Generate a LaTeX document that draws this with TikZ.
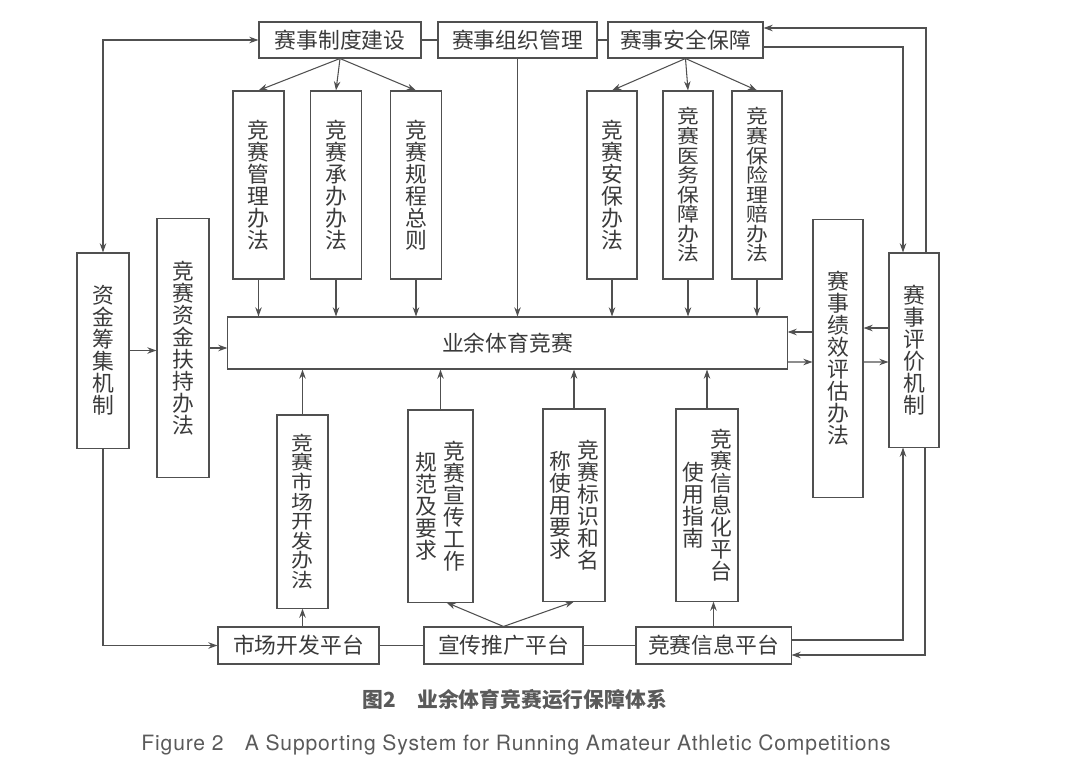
\documentclass[tikz,border=0pt]{standalone}
\usepackage{fontspec}
\usepackage{graphicx}
\setmainfont{TeX Gyre Heros}
\newfontfamily\cjk{Noto Sans CJK SC}
\usetikzlibrary{arrows.meta,calc}

\definecolor{linegray}{HTML}{505050}
\definecolor{textgray}{HTML}{3A3A3A}
\definecolor{capgray}{HTML}{5A5A5A}

\newcommand{\boxfont}{\cjk\fontsize{15.5pt}{15.65pt}\selectfont}
\newcommand{\vcol}[1]{\begin{minipage}{1em}\centering #1\end{minipage}}
\newcommand{\vsquash}[1]{\scalebox{1}[0.89]{\vcol{#1}}}

\begin{document}
\begin{tikzpicture}[x=0.025cm, y=-0.025cm, color=linegray, line width=0.75pt,
  >={Stealth[length=6.5pt,width=4.6pt]},
  box/.style={draw=linegray, inner sep=0pt, text=textgray, font=\boxfont},
  flat/.style={box, minimum height=0.9cm},
  tall/.style={box, minimum width=1.275cm, minimum height=4.7cm}]

\useasboundingbox (0,0) rectangle (1080,763);

% Top row
\node[flat, minimum width=4.05cm] (sys) at (340,40) {赛事制度建设};
\node[flat, minimum width=3.975cm] (org) at (517.5,40) {赛事组织管理};
\node[flat, minimum width=3.875cm] (safe) at (685.5,40) {赛事安全保障};

% Rules under the top row
\node[tall] (mgmt) at (258.5,185) {\vcol{竞\\赛\\管\\理\\办\\法}};
\node[tall] (host) at (336,185) {\vcol{竞\\赛\\承\\办\\办\\法}};
\node[tall] (rules) at (416,185) {\vcol{竞\\赛\\规\\程\\总\\则}};
\node[tall, minimum width=1.25cm] (secu) at (612,185) {\vcol{竞\\赛\\安\\保\\办\\法}};
\node[tall, minimum width=1.25cm] (med) at (688,185) {\vsquash{竞\\赛\\医\\务\\保\\障\\办\\法}};
\node[tall, minimum width=1.25cm] (ins) at (757,185) {\vsquash{竞\\赛\\保\\险\\理\\赔\\办\\法}};

% Funding
\node[box, minimum width=1.3cm, minimum height=4.875cm] (fund) at (103,350.5) {\vcol{资\\金\\筹\\集\\机\\制}};
\node[box, minimum width=1.3cm, minimum height=6.45cm] (support) at (183,348) {\vcol{竞\\赛\\资\\金\\扶\\持\\办\\法}};

% Centre
\node[box, minimum width=13.975cm, minimum height=1.3cm] (main) at (507.5,343) {业余体育竞赛};

% Evaluation
\node[box, minimum width=1.25cm, minimum height=6.925cm] (perf) at (838,358.5) {\vcol{赛\\事\\绩\\效\\评\\估\\办\\法}};
\node[box, minimum width=1.25cm, minimum height=4.85cm] (eval) at (914,350) {\vcol{赛\\事\\评\\价\\机\\制}};

% Rules over the platforms
\node[box, minimum width=1.275cm, minimum height=4.825cm] (mkt) at (302.5,511.5) {\vsquash{竞\\赛\\市\\场\\开\\发\\办\\法}};
\node[box, minimum width=1.625cm, minimum height=4.8cm] (pub) at (440.5,506) {\vcol{规\\范\\及\\要\\求}\hspace{4.5pt}\vcol{竞\\赛\\宣\\传\\工\\作}};
\node[box, minimum width=1.55cm, minimum height=4.8cm] (logo) at (574,505) {\vcol{称\\使\\用\\要\\求}\hspace{4.5pt}\vcol{竞\\赛\\标\\识\\和\\名}};
\node[box, minimum width=1.55cm, minimum height=4.8cm] (info) at (707,505) {\vcol{使\\用\\指\\南}\hspace{4.5pt}\vcol{竞\\赛\\信\\息\\化\\平\\台}};

% Platforms
\node[box, minimum width=4.025cm, minimum height=0.925cm] (mktp) at (298.5,645.5) {市场开发平台};
\node[box, minimum width=3.975cm, minimum height=0.925cm] (pubp) at (503.5,645.5) {宣传推广平台};
\node[box, minimum width=3.875cm, minimum height=0.925cm] (infop) at (713.5,645.5) {竞赛信息平台};

% Top links
\draw (sys) -- (org);
\draw (org) -- (safe);
\draw[->] (sys.south) -- (mgmt.north);
\draw[->] (sys.south) -- (host.north);
\draw[->] (sys.south) -- (rules.north);
\draw[->] (safe.south) -- (secu.north);
\draw[->] (safe.south) -- (med.north);
\draw[->] (safe.south) -- (ins.north);

% Down into the centre
\draw[->] (mgmt.south) -- (mgmt.south |- main.north);
\draw[->] (host.south) -- (host.south |- main.north);
\draw[->] (rules.south) -- (rules.south |- main.north);
\draw[->] (org.south) -- (org.south |- main.north);
\draw[->] (secu.south) -- (secu.south |- main.north);
\draw[->] (med.south) -- (med.south |- main.north);
\draw[->] (ins.south) -- (ins.south |- main.north);

% Funding links
\draw[<->] (fund.north) |- (sys.west);
\draw[->] (fund.east) -- (fund.east -| support.west);
\draw[->] (support.east) -- (support.east -| main.west);
\draw[->] (fund.south) |- (mktp.west);

% Evaluation links
\draw[->] ($(perf.west)+(0,-26.5)$) -- ($(main.east)+(0,-11)$);
\draw[->] ($(main.east)+(0,19)$) -- ($(perf.west)+(0,3.5)$);
\draw[->] ($(eval.west)+(0,-22)$) -- ($(perf.east)+(0,-30.5)$);
\draw[->] ($(perf.east)+(0,3.5)$) -- ($(eval.west)+(0,12)$);
\draw[->] ($(safe.east)+(0,7)$) -| ($(eval.north)+(-11,0)$);
\draw[->] ($(eval.north)+(12,0)$) |- ($(safe.east)+(0,-12)$);
\draw[->] ($(infop.east)+(0,-5.5)$) -| ($(eval.south)+(-11,0)$);
\draw[->] ($(eval.south)+(11,0)$) |- ($(infop.east)+(0,9.5)$);

% Up into the centre
\draw (mktp) -- (pubp);
\draw (pubp) -- (infop);
\draw[->] (mkt.south |- mktp.north) -- (mkt.south);
\draw[->] (pubp.north) -- ($(pub.south)+(6,0)$);
\draw[->] (pubp.north) -- (logo.south);
\draw[->] (infop.north) -- (infop.north |- info.south);
\draw[->] (mkt.north) -- (mkt.north |- main.south);
\draw[->] (pub.north) -- (pub.north |- main.south);
\draw[->] (logo.north) -- (logo.north |- main.south);
\draw[->] (info.north) -- (info.north |- main.south);

% Caption
\node[text=capgray, font=\cjk\bfseries\fontsize{14.8pt}{16pt}\selectfont] (capzh) at (515,700) {图2\quad 业余体育竞赛运行保障体系};
\node[text=capgray, font=\addfontfeature{LetterSpace=4}\fontsize{15pt}{17pt}\selectfont] (capen) at (516,745) {Figure 2\quad A Supporting System for Running Amateur Athletic Competitions};

\end{tikzpicture}
\end{document}
